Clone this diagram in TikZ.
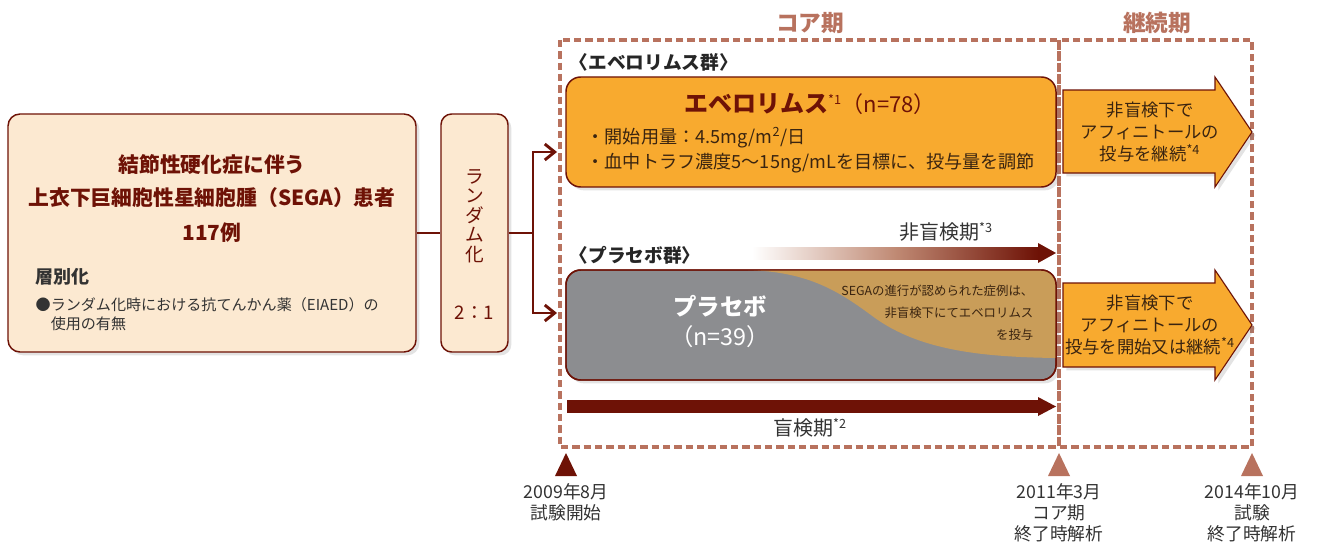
\documentclass[tikz,border=0pt]{standalone}
\usepackage{fontspec}
\setmainfont{Noto Sans CJK JP}
\usetikzlibrary{positioning,arrows.meta,shadows}
\definecolor{dkred}{HTML}{6E1206}
\definecolor{phasecol}{HTML}{B8725E}
\definecolor{cream}{HTML}{FCE9D1}
\definecolor{evoorange}{HTML}{F8AA2F}
\definecolor{pbogray}{HTML}{8C8D90}
\definecolor{pbotan}{HTML}{C99D59}
\definecolor{gradmid}{HTML}{C08A74}
\definecolor{txtgray}{HTML}{333333}
\definecolor{txtbrown}{HTML}{3A2410}
\newcommand{\jfs}[2]{\fontsize{#1}{#2}\selectfont}
\newcommand{\astnote}[1]{\textsuperscript{\jfs{9.5}{9.5}#1}}

\begin{document}
\begin{tikzpicture}[
  x=0.75pt, y=-0.75pt,
  softshadow/.style={drop shadow={opacity=0.22, shadow xshift=2.5pt, shadow yshift=-2.5pt}},
  box/.style={draw=dkred, line width=1.1pt, align=center, inner sep=0pt, softshadow},
  popbox/.style={box, fill=cream, rounded corners=9pt, minimum width=306pt, minimum height=178.5pt},
  rndbox/.style={box, fill=cream, rounded corners=8pt, minimum width=50.25pt, minimum height=178.5pt},
  armbox/.style={box, rounded corners=11pt, minimum width=367.5pt, minimum height=82.5pt},
  link/.style={draw=dkred, line width=2.2pt},
  phaseframe/.style={draw=phasecol, line width=2.4pt, dash pattern=on 5.5pt off 3pt},
  phase/.style={font=\jfs{17}{20}\bfseries, text=phasecol},
  grp/.style={anchor=west, font=\jfs{14}{16}\bfseries, text=black!85},
  ext/.style={fill=evoorange, draw=dkred, line width=0.8pt, softshadow},
  extlab/.style={align=center, font=\jfs{13}{16.5}, text=txtbrown},
  period/.style={font=\jfs{15}{17}, text=txtgray},
  datelab/.style={anchor=north, align=center, font=\jfs{13.3}{15.5}, text=txtgray}]
\fill[white] (0,0) rectangle (1319,542);
\useasboundingbox (0,0) rectangle (1319,542);
% ---- phase frames ----
\draw[phaseframe] (560,40) rectangle (1059,447);
\draw[phaseframe] (1059,40) rectangle (1252,447);
\node[phase] (core) at (810,23) {コア期};
\node[phase] (cont) at (1157,23) {継続期};
% ---- population ----
\node[popbox] (pop) at (212,233) {};
\node[align=center, font=\jfs{15.6}{25.5}\bfseries, text=dkred] (poptxt) at (212,198)
  {結節性硬化症に伴う\\上衣下巨細胞性星細胞腫（SEGA）患者\\117例};
\node[anchor=west, font=\jfs{13.5}{16}\bfseries, text=txtgray] (strat) at (31,277) {層別化};
\node[anchor=north west, align=left, font=\jfs{11.3}{14.5}, text=txtgray] (stratitem) at (31,293)
  {●ランダム化時における抗てんかん薬（EIAED）の\\\hspace*{1em}使用の有無};
% ---- randomisation ----
\node[rndbox] (rnd) at (474.5,233) {};
\node[align=center, font=\jfs{14}{14.6}, text=dkred] (rndtxt) at (474.5,216) {ラ\\ン\\ダ\\ム\\化};
\node[font=\jfs{14}{16}, text=dkred] (ratio) at (474.5,313) {2：1};
\draw[link] (pop) -- (rnd);
\coordinate (split) at (533,233);
\coordinate (evoin) at (557,152);
\coordinate (pboin) at (557,313);
\draw[link] (rnd) -- (split);
\draw[link, -{Straight Barb[length=2.6mm, width=4.2mm]}] (split) |- (evoin);
\draw[link, -{Straight Barb[length=2.6mm, width=4.2mm]}] (split) |- (pboin);
% ---- everolimus arm ----
\node[grp] (evogrp) at (565,62) {〈エベロリムス群〉};
\node[armbox, fill=evoorange] (evo) at (811,132) {};
\node[font=\jfs{16.5}{18}, text=dkred] (evottl) at (810,104)
  {{\jfs{18}{18}\bfseries エベロリムス}\astnote{*1}（n=78）};
\node[anchor=west, align=left, font=\jfs{13.6}{19}, text=txtbrown] (evodose) at (582,150)
  {・開始用量：4.5mg/m\textsuperscript{2}/日\\・血中トラフ濃度5～15ng/mLを目標に、投与量を調節};
% ---- open-label period ----
\node[period] (openlab) at (946,232) {非盲検期\astnote{*3}};
\shade[left color=white, right color=dkred, middle color=gradmid] (752,247) rectangle (1038,259);
\fill[dkred] (1038,243) -- (1056,253) -- (1038,263) -- cycle;
% ---- placebo arm ----
\node[grp] (pbogrp) at (565,255) {〈プラセボ群〉};
\node[armbox, fill=pbogray] (pbo) at (811,325) {};
\begin{scope}
  \clip[rounded corners=11pt] (566,270) rectangle (1056,380);
  \fill[pbotan] (748,270) .. controls (810,272) and (840,292) .. (875,318)
    .. controls (920,350) and (980,357) .. (1056,358) -- (1056,270) -- cycle;
\end{scope}
\draw[draw=dkred, line width=1.1pt, rounded corners=11pt] (566,270) rectangle (1056,380);
\node[align=center, font=\jfs{17.5}{22.5}, text=white] (pbottl) at (720,322)
  {{\bfseries プラセボ}\\（n=39）};
\node[anchor=east, align=right, font=\jfs{9.3}{16.5}, text=txtbrown] (pbonote) at (1038,313)
  {SEGAの進行が認められた症例は、\\非盲検下にてエベロリムス\\を投与};
% ---- blinded period ----
\fill[dkred] (567,400) rectangle (1038,413);
\fill[dkred] (1038,397) -- (1056,406.5) -- (1038,416) -- cycle;
\node[period] (blind) at (810,428) {盲検期\astnote{*2}};
% ---- extension arrows ----
\path[ext] (1063,90) -- (1215,90) -- (1215,77) -- (1252,132) -- (1215,187) -- (1215,173) -- (1063,173) -- cycle;
\path[ext] (1063,283) -- (1215,283) -- (1215,270) -- (1252,325) -- (1215,380) -- (1215,367) -- (1063,367) -- cycle;
\node[extlab] (ext1) at (1150,132) {非盲検下で\\アフィニトールの\\投与を継続\astnote{*4}};
\node[extlab] (ext2) at (1150,325) {非盲検下で\\アフィニトールの\\投与を開始又は継続\astnote{*4}};
% ---- timeline ----
\fill[dkred] (566,453) -- (577,476) -- (555,476) -- cycle;
\fill[phasecol] (1059,453) -- (1070,476) -- (1048,476) -- cycle;
\fill[phasecol] (1252,453) -- (1263,476) -- (1241,476) -- cycle;
\node[datelab] (start) at (566,479) {2009年8月\\試験開始};
\node[datelab] (coreend) at (1059,479) {2011年3月\\コア期\\終了時解析};
\node[datelab] (studyend) at (1252,479) {2014年10月\\試験\\終了時解析};
\end{tikzpicture}
\end{document}
